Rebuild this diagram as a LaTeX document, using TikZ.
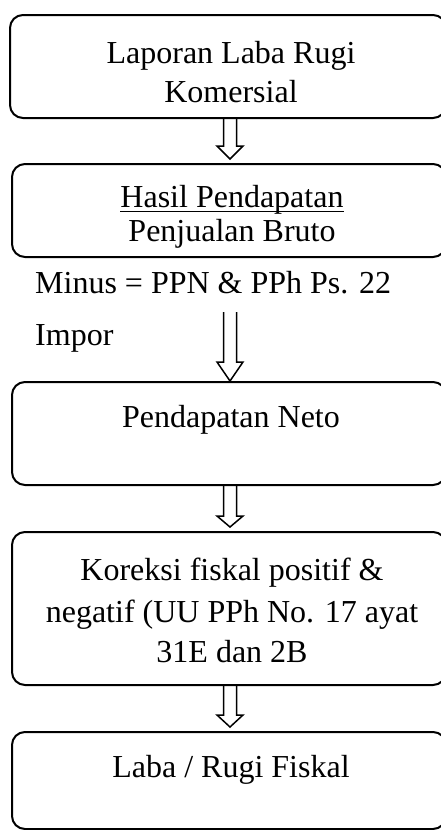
\documentclass[tikz,border=0pt]{standalone}
\usepackage{fontspec}
\setmainfont{Liberation Serif}
\usetikzlibrary{calc}
\newcommand{\hollowarrow}[4]{%
  \draw[hollow] let \p1=(#1), \p2=(#2.north) in
    (223.5pt,\y1) -- (223.5pt,{\y2+#3pt+#4pt}) -- (217pt,{\y2+#3pt+#4pt})
    -- (230pt,{\y2+#3pt}) -- (243pt,{\y2+#3pt+#4pt}) -- (236.5pt,{\y2+#3pt+#4pt})
    -- (236.5pt,\y1);}
\begin{document}
\begin{tikzpicture}[x=1pt,y=-1pt,
  box/.style={draw, line width=2pt, rounded corners=13pt, inner sep=0pt, minimum width=434pt},
  txt/.style={font=\fontsize{32}{40}\selectfont, inner sep=0pt, anchor=base},
  lbl/.style={font=\fontsize{32}{40}\selectfont, inner sep=0pt, anchor=base west},
  hollow/.style={draw, line width=1.5pt, line join=miter}]
\useasboundingbox (0,0) rectangle (441,830);
\clip (0,0) rectangle (441,830);
% boxes
\node[box, minimum width=436pt, minimum height=103pt] (b1) at (228,66.5) {};
\node[box, minimum height=93pt] (b2) at (229,210.5) {};
\node[box, minimum height=103pt] (b3) at (229,433.5) {};
\node[box, minimum height=153pt] (b4) at (229,608.5) {};
\node[box, minimum height=97pt] (b5) at (229,780.5) {};
% texts
\node[txt] (t1a) at (231,63) {Laporan Laba Rugi};
\node[txt] (t1b) at (231,102) {Komersial};
\node[txt] (t2a) at (232,207) {Hasil Pendapatan};
\draw[line width=1.4pt] ($(t2a.base west)+(0,4.5)$) -- ($(t2a.base east)+(0,4.5)$);
\node[txt] (t2b) at (232,241) {Penjualan Bruto};
\node[lbl] (m1) at (35,293) {Minus = PPN \& PPh Ps. 22};
\node[lbl] (m2) at (35,345) {Impor};
\node[txt] (t3) at (231,427) {Pendapatan Neto};
\node[txt] (t4a) at (232,580) {Koreksi fiskal positif \&};
\node[txt] (t4b) at (232,622) {negatif (UU PPh No. 17 ayat};
\node[txt] (t4c) at (232,662) {31E dan 2B};
\node[txt] (t5) at (231,777) {Laba / Rugi Fiskal};
% arrows
\coordinate (a2s) at (230,312);
\hollowarrow{b1.south}{b2}{4}{13}
\hollowarrow{a2s}{b3}{0}{19}
\hollowarrow{b3.south}{b4}{4}{11}
\hollowarrow{b4.south}{b5}{4}{12}
\end{tikzpicture}
\end{document}
